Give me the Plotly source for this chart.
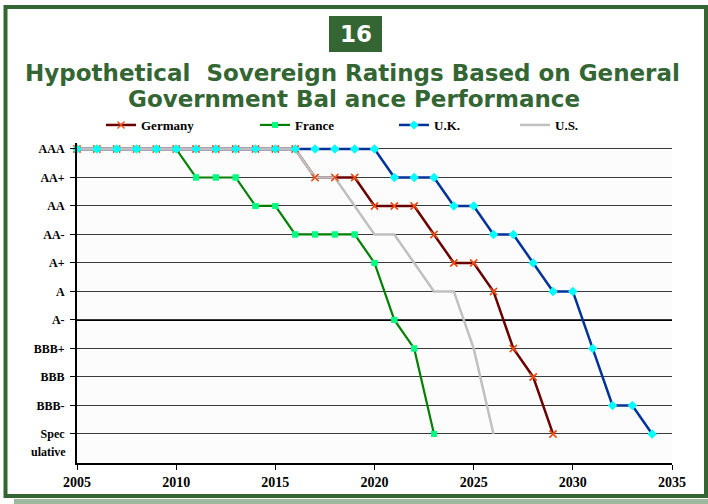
import plotly.graph_objects as go

# ---------------- data ----------------
RATINGS = ["Spec", "BBB-", "BBB", "BBB+", "A-", "A", "A+", "AA-", "AA", "AA+", "AAA"]
RATING_LABELS = ["Spec", "BBB-", "BBB", "BBB+", "A-", "A", "A+", "AA-", "AA", "AA+", "AAA"]
SPEC_SECOND_LINE = "ulative"

YEARS = [2005, 2006, 2007, 2008, 2009, 2010, 2011, 2012, 2013, 2014,
         2015, 2016, 2017, 2018, 2019, 2020, 2021, 2022, 2023, 2024,
         2025, 2026, 2027, 2028, 2029, 2030, 2031, 2032, 2033, 2034]

germany = ["AAA", "AAA", "AAA", "AAA", "AAA", "AAA", "AAA", "AAA", "AAA", "AAA",
           "AAA", "AAA", "AA+", "AA+", "AA+", "AA", "AA", "AA", "AA-", "A+",
           "A+", "A", "BBB+", "BBB", "Spec"]
france = ["AAA", "AAA", "AAA", "AAA", "AAA", "AAA", "AA+", "AA+", "AA+", "AA",
          "AA", "AA-", "AA-", "AA-", "AA-", "A+", "A-", "BBB+", "Spec"]
uk = ["AAA", "AAA", "AAA", "AAA", "AAA", "AAA", "AAA", "AAA", "AAA", "AAA",
      "AAA", "AAA", "AAA", "AAA", "AAA", "AAA", "AA+", "AA+", "AA+", "AA",
      "AA", "AA-", "AA-", "A+", "A", "A", "BBB+", "BBB-", "BBB-", "Spec"]
us = ["AAA", "AAA", "AAA", "AAA", "AAA", "AAA", "AAA", "AAA", "AAA", "AAA",
      "AAA", "AAA", "AA+", "AA+", "AA", "AA-", "AA-", "A+", "A", "A",
      "BBB+", "Spec"]

X_TICKS = [2005, 2010, 2015, 2020, 2025, 2030, 2035]

# ---------------- layout geometry ----------------
W, H = 708, 504
L, R, T, B = 77, 36, 143, 41
PW, PH = W - L - R, H - T - B
GREEN = "#336633"


def px(x):
    return (x - L) / PW


def py(y):
    return (H - B - y) / PH


def idx(vals):
    return [RATINGS.index(v) for v in vals]


series = [
    ("Germany", germany, dict(color="#6B0000", width=2.5),
     dict(symbol="x-thin", size=7, color="#F04A10", line=dict(color="#F04A10", width=1.3))),
    ("France", france, dict(color="#008000", width=2.2),
     dict(symbol="square", size=6, color="#00FF80", line=dict(width=0))),
    ("U.K.", uk, dict(color="#003399", width=2.5),
     dict(symbol="diamond", size=7, color="#00FFFF", line=dict(width=0))),
    ("U.S.", us, dict(color="#C0C0C0", width=2.5), None),
]
legend_text_x = [143, 297, 436, 557]

fig = go.Figure()
for i, (name, vals, line, marker) in enumerate(series):
    lg = "legend" if i == 0 else f"legend{i + 1}"
    fig.add_trace(go.Scatter(
        x=YEARS[:len(vals)], y=idx(vals), name=name,
        mode="lines+markers" if marker else "lines",
        line=line, marker=marker, legend=lg, cliponaxis=False,
    ))
# markers drawn above all lines (as in the source chart)
for name, vals, line, marker in series:
    if marker:
        fig.add_trace(go.Scatter(
            x=YEARS[:len(vals)], y=idx(vals), mode="markers",
            marker=marker, showlegend=False, cliponaxis=False, hoverinfo="skip",
        ))

legend_font = dict(family="Liberation Serif", size=13, color="black", weight="bold")
legends = {}
for i, tx in enumerate(legend_text_x):
    key = "legend" if i == 0 else f"legend{i + 1}"
    legends[key] = dict(
        x=px(tx - 42), y=py(125), xanchor="left", yanchor="middle",
        orientation="h", bgcolor="rgba(0,0,0,0)", font=legend_font,
        itemwidth=30, borderwidth=0,
    )

shapes = [
    # outer dark green frame
    dict(type="rect", xref="paper", yref="paper", x0=px(5.5), x1=px(706), y0=py(7), y1=py(496),
         line=dict(color=GREEN, width=4), fillcolor="rgba(0,0,0,0)", layer="below"),
    # light shadow band at the bottom
    dict(type="rect", xref="paper", yref="paper", x0=px(14), x1=px(708), y0=py(499), y1=py(504),
         line=dict(width=0), fillcolor="#9DB89D", layer="below"),
    # "16" box
    dict(type="rect", xref="paper", yref="paper", x0=px(329), x1=px(382), y0=py(16), y1=py(52),
         line=dict(width=0), fillcolor=GREEN, layer="below"),
    # emphasised A- line
    dict(type="line", xref="paper", yref="y", x0=0, x1=1, y0=RATINGS.index("A-"), y1=RATINGS.index("A-"),
         line=dict(color="black", width=2), layer="below"),
]

title_font = dict(family="DejaVu Sans", size=23, color=GREEN, weight="bold")
annotations = [
    dict(text="16", x=px(355.5), y=py(34), xref="paper", yref="paper",
         showarrow=False, xanchor="center", yanchor="middle",
         font=dict(family="DejaVu Sans", size=23, color="white", weight="bold")),
    dict(text="Hypothetical  Sovereign Ratings Based on General", x=px(352), y=py(73),
         xref="paper", yref="paper", showarrow=False, xanchor="center", yanchor="middle",
         font=title_font),
    dict(text="Government Bal ance Performance", x=px(354), y=py(99),
         xref="paper", yref="paper", showarrow=False, xanchor="center", yanchor="middle",
         font=title_font),
    # second line of the "Speculative" tick label
    dict(text=SPEC_SECOND_LINE, x=0, xref="paper", y=RATINGS.index("Spec"), yref="y",
         xanchor="right", yanchor="middle", xshift=-9, yshift=-18, showarrow=False,
         font=dict(family="Liberation Serif", size=12, color="black", weight="bold")),
]

fig.update_layout(
    width=W, height=H,
    margin=dict(l=L, r=R, t=T, b=B, pad=0),
    paper_bgcolor="white", plot_bgcolor="#FCFCFC",
    shapes=shapes, annotations=annotations,
    **legends,
    xaxis=dict(range=[2005, 2035], tickvals=X_TICKS, ticks="outside", ticklen=5,
               tickcolor="black", showline=True, linecolor="black", linewidth=1.5,
               showgrid=False, zeroline=False,
               tickfont=dict(family="Liberation Serif", size=14, color="black", weight="bold")),
    yaxis=dict(range=[-1.02, 10.21], tickvals=list(range(len(RATINGS))), ticktext=RATING_LABELS,
               ticks="outside", ticklen=5, tickcolor="black", ticklabelstandoff=3,
               showline=True, linecolor="black", linewidth=2,
               showgrid=True, gridcolor="#3A3A3A", gridwidth=1, zeroline=False,
               tickfont=dict(family="Liberation Serif", size=12, color="black", weight="bold")),
)

fig.write_html("out.html", config={"displayModeBar": False},
               post_script="document.body.style.margin='0';document.body.style.padding='0';")
